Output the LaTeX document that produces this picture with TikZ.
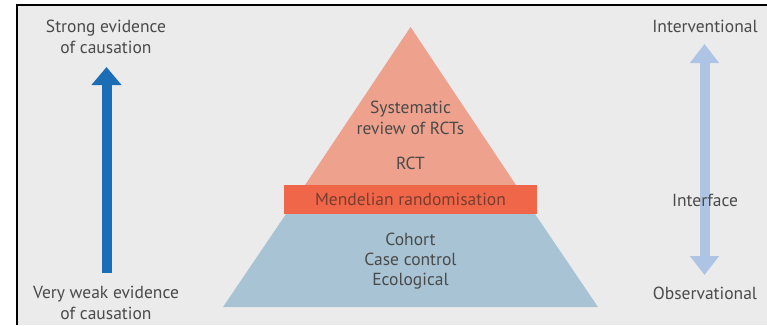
\documentclass[tikz,border=0pt]{standalone}
\usepackage{fontspec}
\setmainfont{PT Sans}
\usetikzlibrary{arrows.meta}
\definecolor{panelbg}{HTML}{EBEBEC}
\definecolor{topfill}{HTML}{EEA28D}
\definecolor{bandfill}{HTML}{EF6648}
\definecolor{basefill}{HTML}{A8C4D4}
\definecolor{strongblue}{HTML}{1B6DB5}
\definecolor{paleblue}{HTML}{AEC4E4}
\definecolor{labeltext}{HTML}{4A4A4A}
\definecolor{bandtext}{HTML}{7A3D30}
\begin{document}
\begin{tikzpicture}[x=1pt,y=-1pt,
  lbl/.style={text=labeltext, font=\fontsize{17.5}{20.3}\selectfont, align=center, inner sep=0pt},
  bigarrow/.style={line width=10pt, -{Triangle[width=29pt,length=18pt]}},
  twoway/.style={line width=10pt, {Triangle[width=28pt,length=19pt]}-{Triangle[width=28pt,length=19pt]}}]
\useasboundingbox (0,0) rectangle (767,325);
% panel and its frame
\fill[panelbg] (17,5) rectangle (767,325);
\draw[line width=2pt] (17,325) -- (17,5) -- (767,5);

% pyramid: apex (410.5,27), base y=307 from 223 to 598
\coordinate (apex) at (410.5,27);
\fill[topfill] (apex) -- (305,185) -- (516,185) -- cycle;
\fill[basefill] (286,214) -- (535,214) -- (598,307) -- (223,307) -- cycle;
\fill[bandfill] (284,185) rectangle (537,214);

\node[lbl] (sr) at (410.5,118) {Systematic\\review of RCTs};
\node[lbl] (rct) at (410.5,163) {RCT};
\node[lbl, text=bandtext] (mr) at (410.5,199) {Mendelian randomisation};
\node[lbl] (obs) at (410.5,261) {Cohort\\Case control\\Ecological};

% left scale
\node[lbl] (strong) at (106,37) {Strong evidence\\of causation};
\node[lbl] (weak) at (106,303) {Very weak evidence\\of causation};
\coordinate (lb) at (106.5,273);
\coordinate (lt) at (106.5,67);
\draw[bigarrow, strongblue] (lb) -- (lt);

% right scale
\node[lbl] (inter) at (705,26) {Interventional};
\node[lbl] (observ) at (705,293) {Observational};
\coordinate (rt) at (704.5,44);
\coordinate (rb) at (704.5,275);
\draw[twoway, paleblue] (rt) -- (rb);
\node[lbl] (iface) at (705,200) {Interface};
\end{tikzpicture}
\end{document}
